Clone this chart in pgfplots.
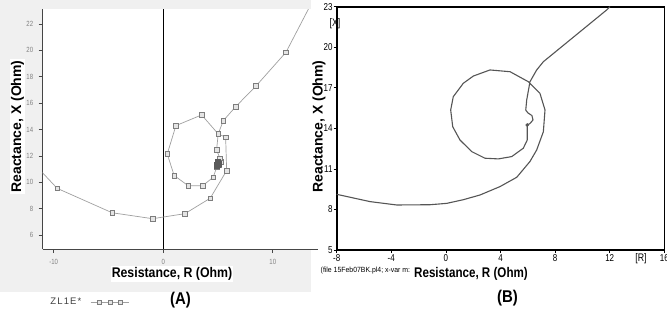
\documentclass[border=0pt]{standalone}
\usepackage{fontspec}
\setmainfont{Liberation Sans}
\newfontfamily\narrowf[FakeStretch=0.8]{Liberation Sans}
\newfontfamily\lfA[FakeStretch=0.88]{Liberation Sans}
\newfontfamily\lfB[FakeStretch=0.83]{Liberation Sans}
\newfontfamily\tinyf[FakeStretch=0.92]{Liberation Sans}
\newfontfamily\legf[LetterSpace=12]{Liberation Sans}
\usepackage{pgfplots}
\pgfplotsset{compat=1.18}
\definecolor{bg}{RGB}{240,240,240}
\definecolor{lgline}{RGB}{160,160,160}
\definecolor{mkdraw}{RGB}{125,125,125}
\definecolor{mkfill}{RGB}{228,228,228}
\definecolor{mkdark}{RGB}{90,90,90}
\definecolor{axl}{RGB}{70,70,70}
\definecolor{bline}{RGB}{85,85,85}
\begin{document}
\begin{tikzpicture}[x=1pt,y=1pt]
\useasboundingbox (0,0) rectangle (667,314);
\fill[white] (0,0) rectangle (667,314);
\fill[bg] (0,22) rectangle (333,314);
\fill[white] (42.7,65) rectangle (318,304.7);
\fill[white] (311,0) rectangle (667,314);

% ---------------- Panel A ----------------
\begin{axis}[at={(42.7pt,65pt)}, anchor=south west, scale only axis,
  width=275.3pt, height=239.7pt,
  xmin=-11, xmax=14.13, ymin=4.955, ymax=23.11,
  axis x line*=bottom, axis y line*=left,
  axis line style={draw=axl, line width=0.7pt, -},
  xtick={-10,0,10}, ytick={6,8,...,22},
  tick align=outside, major tick length=4pt,
  tick style={draw=axl, line width=0.6pt},
  ticklabel style={font=\narrowf\fontsize{7.5}{8}\selectfont, text=gray},
  /pgf/number format/assume math mode=true,
  xticklabel style={yshift=-3pt},
  yticklabel style={xshift=-2pt},
  legend plot pos=right,
  legend style={at={(0.02,-0.221)}, anchor=west, draw=none, fill=none,
    text=darkgray, inner sep=0pt},
  legend image code/.code={
    \draw[#1, mark=none] (0pt,0pt) -- (38pt,0pt);
    \draw[#1, mark size=2pt] plot[only marks] coordinates {(9pt,0pt) (20pt,0pt) (30pt,0pt)};
  },
]
\draw[black, line width=0.6pt] (axis cs:0,4.955) -- (axis cs:0,23.11);
\addplot[color=lgline, line width=0.7pt, mark=square*, mark size=2.4pt,
  mark options={fill=mkfill, draw=mkdraw, line width=0.5pt, solid}]
coordinates {
(-12,11.6) (-9.68,9.55) (-4.66,7.70) (-0.97,7.25) (1.98,7.63) (4.29,8.80)
(5.79,10.89) (5.70,13.42) (5.02,13.67) (3.51,15.11) (1.16,14.30) (0.37,12.15)
(1.00,10.52) (2.28,9.75) (3.60,9.75) (4.57,10.39) (4.90,11.20) (5.05,11.35)
(4.95,11.50) (5.10,11.45) (5.00,11.60) (5.30,11.57) (5.18,11.83) (4.87,12.45)
(5.02,13.67) (5.48,14.67) (6.61,15.73) (8.47,17.30) (11.21,19.86) (13.8,24)
};
\addlegendentry{\legf\fontsize{9.5}{10}\selectfont ZL1E*\kern7pt}
\addplot[forget plot, only marks, mark=square*, mark size=2.4pt,
  mark options={fill=mkdark, draw=mkdark, line width=0.5pt}]
coordinates {(4.90,11.22) (5.00,11.35) (4.95,11.50) (5.08,11.42) (5.00,11.58) (4.86,11.36)};
\end{axis}

% right-panel y label drawn under the tick labels
\node[rotate=90, inner sep=0pt, font=\bfseries\fontsize{14}{16}\selectfont] at (319,187.5) {Reactance, X (Ohm)};

% ---------------- Panel B ----------------
\begin{axis}[at={(336.7pt,64pt)}, anchor=south west, scale only axis,
  width=327.6pt, height=243.3pt,
  xmin=-8, xmax=16, ymin=5, ymax=23,
  xtick={-8,-4,...,16}, ytick={5,8,...,23},
  axis line style={line width=1.6pt, black},
  tick align=outside, tick pos=left, major tick length=3pt,
  tick style={black, line width=0.8pt},
  ticklabel style={font=\narrowf\fontsize{10}{11}\selectfont, inner sep=1pt},
  /pgf/number format/assume math mode=true,
]
\addplot[color=bline, line width=1.1pt, line join=round, mark=none]
coordinates {
(-8,9.12) (-5.56,8.58) (-3.6,8.33) (-1.16,8.35) (0.06,8.45) (1.27,8.72)
(2.5,9.07) (3.96,9.69) (5.19,10.38) (6.16,11.55) (6.65,12.40) (7.14,13.75)
(7.26,15.36) (6.89,16.59) (6.04,17.45) (4.70,18.19) (3.23,18.32) (2.01,17.87)
(1.27,17.33) (0.54,16.34) (0.35,15.36) (0.50,14.12) (1.03,13.14) (1.89,12.28)
(2.86,11.79) (3.84,11.74) (4.82,11.91) (5.67,12.53) (5.96,13.14) (5.96,13.75)
(5.96,14.25) (6.15,14.35) (6.38,14.62) (6.30,14.95) (6.00,15.15) (5.85,15.35)
(5.92,16.10) (6.16,17.45) (6.65,18.32) (7.14,18.93) (11.78,22.76) (12.02,23.0)
};
\addplot[only marks, mark=*, mark size=1.6pt, color=bline] coordinates {(5.96,14.25)};
\end{axis}

% ---------------- Labels ----------------
\node[rotate=90, fill=white, inner sep=1pt, font=\bfseries\fontsize{14}{16}\selectfont] at (17.5,187.5) {Reactance, X (Ohm)};
\node[fill=white, inner sep=1pt, font=\lfA\bfseries\fontsize{14}{16}\selectfont] at (172,40) {Resistance, R (Ohm)};
\node[font=\lfA\bfseries\fontsize{17}{19}\selectfont] at (180.5,14) {(A)};

\node[fill=white, inner sep=1pt, font=\lfB\bfseries\fontsize{14}{16}\selectfont] at (471,40) {Resistance, R (Ohm)};
\node[anchor=west, fill=white, inner sep=0.5pt, font=\tinyf\fontsize{7.5}{8}\selectfont] at (320,43) {(file 15Feb07BK.pl4; x-var m:};
\node[font=\lfA\bfseries\fontsize{17}{19}\selectfont] at (507.5,16) {(B)};
\node[font=\narrowf\fontsize{11}{12}\selectfont, inner sep=0pt] at (335,290) {[X]};
\node[font=\narrowf\fontsize{11}{12}\selectfont, inner sep=0pt] at (641,55) {[R]};
\end{tikzpicture}
\end{document}
